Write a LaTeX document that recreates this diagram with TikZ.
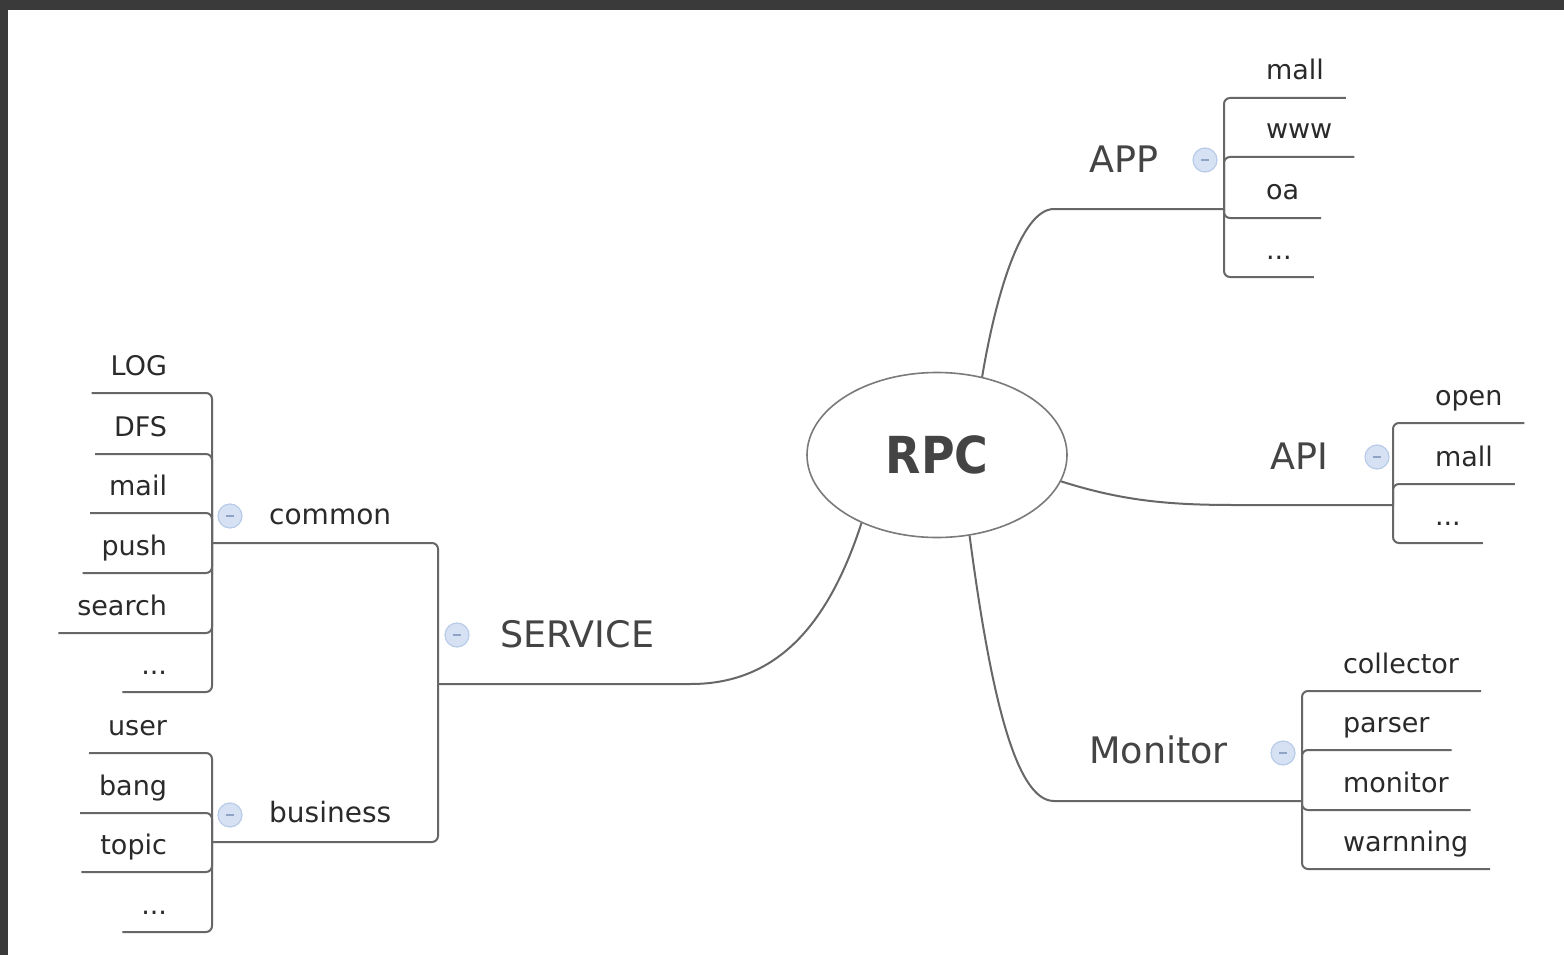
\documentclass[tikz,border=0pt]{standalone}
\usepackage{graphicx}
\usepackage{fontspec}
\setmainfont{DejaVu Sans}
\usetikzlibrary{shapes.geometric}
\definecolor{framec}{HTML}{3A3A3A}
\definecolor{linec}{HTML}{676767}
\definecolor{ellc}{HTML}{7A7A7A}
\definecolor{txtc}{HTML}{2A2A2A}
\definecolor{toptxt}{HTML}{444444}
\definecolor{bubfill}{HTML}{D6E2F4}
\definecolor{bubdraw}{HTML}{B8CBE8}
\definecolor{minusc}{HTML}{8FA3C4}
\newcommand\fleaf{\fontsize{27}{32}\selectfont}
\newcommand\fmidl{\fontsize{28}{33}\selectfont}
\newcommand\ftopl{\fontsize{36.5}{42}\selectfont}
\newcommand\frpc{\bfseries\fontsize{51}{60}\selectfont}
\begin{document}
\begin{tikzpicture}[x=1pt,y=-1pt,
 conn/.style={draw=linec, line width=2pt, rounded corners=6pt},
 leafL/.style={anchor=south east, font=\fleaf, text=txtc, inner xsep=19pt, inner ysep=18pt, text depth=0pt, outer sep=0pt},
 leafR/.style={anchor=south west, font=\fleaf, text=txtc, inner xsep=22pt, inner ysep=18pt, text depth=0pt, outer sep=0pt},
 lvltwo/.style={anchor=base west, font=\fmidl, text=txtc, inner sep=0pt},
 lvlone/.style={anchor=base west, font=\ftopl, text=toptxt, inner sep=0pt},
 bub/.style={circle, minimum size=24pt, inner sep=0pt, fill=bubfill, draw=bubdraw, line width=1.2pt,
   path picture={\draw[minusc, line width=1.2pt] ([xshift=-4pt]path picture bounding box.center) -- ([xshift=4pt]path picture bounding box.center);}}
]
% background and frame
\fill[white] (0,0) rectangle (1564,955);
\fill[framec] (0,0) rectangle (1564,10);
\fill[framec] (0,0) rectangle (8,955);

% central node
\node[ellipse, draw=ellc, line width=1.6pt, minimum width=260pt, minimum height=165pt, inner sep=0pt, font=\frpc, text=toptxt] (rpc) at (937,455) {\scalebox{0.9}[1]{RPC}};

% junction coordinates
\coordinate (ap0) at (1060,209);
\coordinate (jAPP) at (1224,209);
\coordinate (api0) at (1240,505);
\coordinate (jAPI) at (1393,505);
\coordinate (mo0) at (1060,801);
\coordinate (jMon) at (1302,801);
\coordinate (sv0) at (685,684);
\coordinate (jSVC) at (438,684);
\coordinate (jCom) at (212,543);
\coordinate (jBus) at (212,842);

% level-one labels
\node[lvlone] (APP) at (1089,173) {APP};
\node[lvlone] (API) at (1270,469) {API};
\node[lvlone] (Monitor) at (1089,763) {Monitor};
\node[lvlone] (SERVICE) at (500,647) {SERVICE};
\node[lvltwo] (common) at (269,524) {common};
\node[lvltwo] (business) at (269,822) {business};

% leaves: common
\node[leafL] (LOG) at (186,393) {LOG};
\node[leafL] (DFS) at (186,454) {DFS};
\node[leafL] (mailC) at (186,513) {mail};
\node[leafL] (push) at (186,573) {push};
\node[leafL] (search) at (186,633) {search};
\node[leafL] (dotC) at (186,692) {...};
% leaves: business
\node[leafL] (user) at (186,753) {user};
\node[leafL] (bang) at (186,813) {bang};
\node[leafL] (topic) at (186,872) {topic};
\node[leafL] (dotB) at (186,932) {...};
% leaves: APP
\node[leafR] (mallA) at (1244,98) {mall};
\node[leafR] (www) at (1244,157) {www};
\node[leafR] (oa) at (1244,218) {oa};
\node[leafR] (dotA) at (1244,277) {...};
% leaves: API
\node[leafR] (open) at (1413,423) {open};
\node[leafR] (mallP) at (1413,484) {mall};
\node[leafR] (dotP) at (1413,543) {...};
% leaves: Monitor
\node[leafR] (collector) at (1321,691) {collector};
\node[leafR] (parser) at (1321,750) {parser};
\node[leafR] (monitor) at (1321,810) {monitor};
\node[leafR] (warnning) at (1321,869) {warnning};

% main connectors
\draw[conn] (rpc.60) .. controls (995,300) and (1020,209) .. (ap0) -- (jAPP);
\draw[conn] (rpc.-12) .. controls (1120,500) and (1165,505) .. (api0) -- (jAPI);
\draw[conn] (rpc.-68) .. controls (990,690) and (1015,801) .. (mo0) -- (jMon);
\draw[conn] (rpc.222) .. controls (830,620) and (780,684) .. (sv0) -- (jSVC);

% SERVICE bracket
\draw[conn] (jSVC) |- (jCom);
\draw[conn] (jSVC) |- (jBus);

% common bracket
\foreach \n in {LOG,DFS,mailC,push,search,dotC}{\draw[conn] (jCom) |- (\n.south west);}
% business bracket
\foreach \n in {user,bang,topic,dotB}{\draw[conn] (jBus) |- (\n.south west);}
% APP bracket
\foreach \n in {mallA,www,oa,dotA}{\draw[conn] (jAPP) |- (\n.south east);}
% API bracket
\foreach \n in {open,mallP,dotP}{\draw[conn] (jAPI) |- (\n.south east);}
% Monitor bracket
\foreach \n in {collector,parser,monitor,warnning}{\draw[conn] (jMon) |- (\n.south east);}

% collapse bubbles
\node[bub] (bCom) at (230,516) {};
\node[bub] (bBus) at (230,815) {};
\node[bub] (bSvc) at (457,635) {};
\node[bub] (bApp) at (1205,160) {};
\node[bub] (bApi) at (1377,457) {};
\node[bub] (bMon) at (1283,753) {};
\end{tikzpicture}
\end{document}
